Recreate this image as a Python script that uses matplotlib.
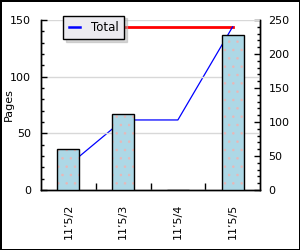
import matplotlib
matplotlib.use("Agg")
import matplotlib.pyplot as plt
from matplotlib.ticker import MultipleLocator, FixedLocator
import numpy as np

dates = ["11\u20195/2", "11\u20195/3", "11\u20195/4", "11\u20195/5"]
pages = [36, 67, 0, 137]
total = [36, 103, 103, 240]
peak = [240, 240, 240, 240]

plt.rcParams['font.family'] = ['DejaVu Sans']
plt.rcParams['font.size'] = 8
plt.rcParams['hatch.linewidth'] = 0.6

fig = plt.figure(figsize=(3, 2.5), dpi=100)
fig.patch.set_edgecolor('black')
fig.patch.set_linewidth(2)
ax = fig.add_axes([41/300, 60/250, 219/300, 170/250])
ax2 = ax.twinx()

x = np.arange(len(dates))

# lines on the right axis, behind the bars
ax2.plot(x, peak, color='red', lw=2, zorder=2)
line, = ax2.plot(x, total, color='blue', lw=0.9, zorder=3, label='Total')
ax2.set_ylim(0, 250)
ax2.yaxis.set_major_locator(MultipleLocator(50))
ax2.yaxis.set_minor_locator(MultipleLocator(10))

# bars on the left axis, drawn on top
ax.set_zorder(ax2.get_zorder() + 1)
ax.patch.set_visible(False)
ax.bar(x, pages, width=0.4, color='#add8e6', lw=0, zorder=3)
ax.bar(x, pages, width=0.4, color='none', edgecolor='#e8b8b8', hatch='..', lw=0, zorder=3)
ax.bar(x, pages, width=0.4, color='none', edgecolor='black', lw=1, zorder=4)
ax.set_ylim(0, 150)
ax.set_xlim(-0.5, 3.5)
ax.yaxis.set_major_locator(MultipleLocator(50))
ax.yaxis.set_minor_locator(MultipleLocator(10))
ax.grid(axis='y', color='#d8d8d8', lw=1, zorder=0)
ax.set_axisbelow(True)
ax.set_ylabel('Pages')
ax.yaxis.set_label_coords(-0.125, 0.5)

ax.set_xticks(x)
ax.set_xticklabels(dates, rotation=90)
ax.xaxis.set_minor_locator(FixedLocator(x[:-1] + 0.5))
ax.tick_params(axis='x', which='major', length=0, pad=10)
ax.tick_params(axis='x', which='minor', direction='in', length=5, width=1,
               bottom=True, color='black')
ax.tick_params(axis='y', which='major', direction='in', length=4, width=1, pad=7)
ax.tick_params(axis='y', which='minor', direction='in', length=2.5, width=1)
ax2.tick_params(axis='y', which='major', direction='in', length=4, width=1, pad=6)
ax2.tick_params(axis='y', which='minor', direction='in', length=2.5, width=1)

for a in (ax, ax2):
    a.spines['top'].set_visible(False)
    for s in ('left', 'right', 'bottom'):
        a.spines[s].set_linewidth(1)

leg = ax.legend(handles=[line], loc='upper left', bbox_to_anchor=(0.075, 1.06),
                frameon=True, fancybox=False, shadow={'ox': 2, 'oy': -2, 'color': '#b0b0b0'},
                handlelength=1.0, handletextpad=0.9, borderpad=0.45, fontsize=8.5)
leg.get_frame().set_facecolor('#ecebf0')
leg.get_frame().set_edgecolor('black')
leg.get_frame().set_alpha(1)
leg.get_frame().set_linewidth(1)
for l in leg.get_lines():
    l.set_linewidth(1.8)

fig.savefig('out.png', dpi=100)
